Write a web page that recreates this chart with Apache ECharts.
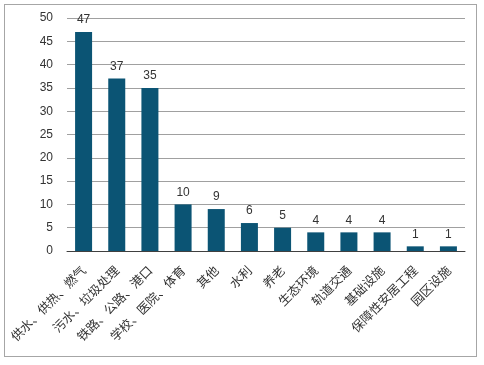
<!DOCTYPE html>
<html><head><meta charset="utf-8">
<script src="https://cdn.jsdelivr.net/npm/echarts@6/dist/echarts.min.js"></script>
<style>html,body{margin:0;padding:0;background:#fff;}
#frame{position:absolute;left:4px;top:4px;width:473px;height:353px;border:1px solid #a6a6a6;box-sizing:border-box;}
#c{position:absolute;left:0;top:0;width:484px;height:365px;}</style>
</head><body>
<div id="frame"></div>
<div id="c"></div>
<script>
var categories = ['供水、供热、燃气','污水、垃圾处理','铁路、公路、港口','学校、医院、体育','其他','水利','养老','生态环境','轨道交通','基础设施','保障性安居工程','园区设施'];
var values = [47,37,35,10,9,6,5,4,4,4,1,1];
var yTicks = {min:0,max:50,interval:5};
var chart = echarts.init(document.getElementById('c'));
chart.setOption({
  animation:false,
  grid:{left:67,right:19,top:18,bottom:114,containLabel:false},
  xAxis:{type:'category',data:categories,
    axisLine:{lineStyle:{color:'#404040',width:1}},
    axisTick:{show:false},
    axisLabel:{rotate:45,interval:0,fontSize:12.5,color:'#333',fontFamily:'Noto Sans CJK SC',margin:17}},
  yAxis:{type:'value',min:yTicks.min,max:yTicks.max,interval:yTicks.interval,
    axisLine:{show:false},axisTick:{show:false},
    axisLabel:{fontSize:12,color:'#333',fontFamily:'Arial, Liberation Sans',margin:14},
    splitLine:{lineStyle:{color:'#a0a0a0',width:1}}},
  series:[{type:'bar',data:values,barWidth:17,
    itemStyle:{color:'#0b5474'},
    label:{show:true,position:'top',fontSize:12,color:'#333',fontFamily:'Arial, Liberation Sans',distance:6}}]
});
</script>
</body></html>
